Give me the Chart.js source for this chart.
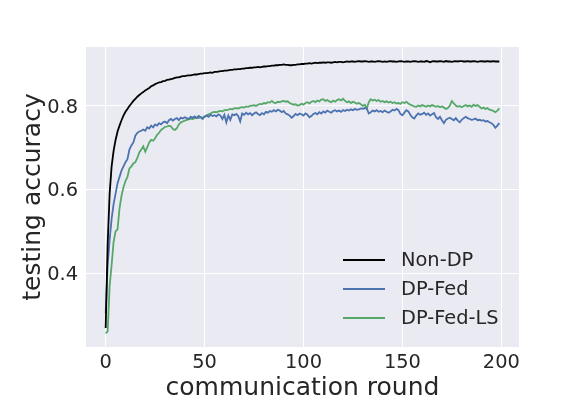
<!DOCTYPE html>
<html>
<head>
<meta charset="utf-8">
<script src="https://cdn.jsdelivr.net/npm/chart.js@4.4.1/dist/chart.umd.min.js"></script>
<style>
  html, body { margin: 0; padding: 0; background: #ffffff; }
  #wrap { width: 576px; height: 396px; }
</style>
</head>
<body>
<div id="wrap"><canvas id="accChart" width="576" height="396"></canvas></div>
<script>
// communication rounds 0..199
const rounds = Array.from({ length: 200 }, (_, i) => i);

// testing accuracy
const nonDp = [
  0.270, 0.470, 0.590, 0.655, 0.692, 0.718, 0.738, 0.752, 0.765, 0.776,
  0.785, 0.792, 0.799, 0.805, 0.811, 0.816, 0.821, 0.825, 0.829, 0.832,
  0.836, 0.839, 0.842, 0.846, 0.848, 0.851, 0.853, 0.855, 0.856, 0.858,
  0.859, 0.861, 0.862, 0.863, 0.864, 0.866, 0.867, 0.867, 0.869, 0.870,
  0.870, 0.871, 0.872, 0.872, 0.873, 0.874, 0.874, 0.875, 0.876, 0.876,
  0.877, 0.877, 0.878, 0.879, 0.878, 0.880, 0.880, 0.881, 0.882, 0.882,
  0.883, 0.883, 0.884, 0.885, 0.885, 0.886, 0.886, 0.887, 0.887, 0.888,
  0.888, 0.889, 0.889, 0.890, 0.890, 0.891, 0.891, 0.892, 0.891, 0.892,
  0.893, 0.893, 0.894, 0.894, 0.895, 0.895, 0.896, 0.896, 0.897, 0.897,
  0.898, 0.897, 0.897, 0.896, 0.896, 0.897, 0.897, 0.898, 0.898, 0.899,
  0.899, 0.900, 0.900, 0.901, 0.900, 0.901, 0.902, 0.901, 0.902, 0.902,
  0.903, 0.902, 0.903, 0.903, 0.902, 0.903, 0.904, 0.903, 0.904, 0.904,
  0.903, 0.904, 0.905, 0.904, 0.905, 0.905, 0.904, 0.905, 0.906, 0.905,
  0.905, 0.906, 0.905, 0.904, 0.905, 0.905, 0.904, 0.905, 0.906, 0.905,
  0.904, 0.905, 0.904, 0.905, 0.906, 0.905, 0.905, 0.904, 0.905, 0.906,
  0.905, 0.904, 0.905, 0.905, 0.904, 0.905, 0.906, 0.905, 0.904, 0.905,
  0.905, 0.904, 0.906, 0.905, 0.903, 0.905, 0.906, 0.905, 0.905, 0.906,
  0.905, 0.904, 0.906, 0.905, 0.905, 0.904, 0.905, 0.906, 0.905, 0.906,
  0.906, 0.905, 0.905, 0.906, 0.905, 0.905, 0.906, 0.905, 0.904, 0.905,
  0.906, 0.905, 0.905, 0.906, 0.905, 0.905, 0.906, 0.905, 0.905, 0.905
];

const dpFed = [
  0.305, 0.420, 0.480, 0.530, 0.565, 0.590, 0.615, 0.630, 0.645, 0.655,
  0.665, 0.672, 0.695, 0.705, 0.712, 0.728, 0.735, 0.738, 0.740, 0.743,
  0.740, 0.748, 0.745, 0.752, 0.748, 0.755, 0.752, 0.758, 0.755, 0.760,
  0.762, 0.758, 0.765, 0.768, 0.764, 0.768, 0.770, 0.765, 0.771, 0.769,
  0.772, 0.770, 0.768, 0.773, 0.771, 0.774, 0.770, 0.775, 0.772, 0.768,
  0.774, 0.776, 0.773, 0.778, 0.775, 0.777, 0.774, 0.779, 0.776, 0.768,
  0.778, 0.760, 0.776, 0.766, 0.779, 0.777, 0.780, 0.775, 0.762, 0.781,
  0.778, 0.783, 0.779, 0.782, 0.777, 0.781, 0.784, 0.780, 0.777, 0.782,
  0.779, 0.785, 0.783, 0.787, 0.785, 0.789, 0.786, 0.790, 0.788, 0.784,
  0.787, 0.781, 0.779, 0.776, 0.771, 0.775, 0.780, 0.777, 0.781, 0.779,
  0.776, 0.781, 0.778, 0.772, 0.775, 0.780, 0.782, 0.779, 0.784, 0.781,
  0.786, 0.783, 0.788, 0.785, 0.783, 0.787, 0.789, 0.786, 0.788, 0.785,
  0.789, 0.787, 0.790, 0.788, 0.791, 0.789, 0.792, 0.790, 0.791, 0.793,
  0.792, 0.794, 0.793, 0.781, 0.784, 0.788, 0.786, 0.789, 0.785, 0.787,
  0.784, 0.788, 0.785, 0.783, 0.786, 0.790, 0.788, 0.792, 0.789, 0.780,
  0.777, 0.783, 0.789, 0.786, 0.778, 0.772, 0.769, 0.776, 0.781, 0.778,
  0.780, 0.783, 0.778, 0.781, 0.776, 0.779, 0.782, 0.772, 0.768, 0.773,
  0.765, 0.758, 0.766, 0.769, 0.771, 0.768, 0.765, 0.770, 0.764, 0.760,
  0.766, 0.770, 0.773, 0.770, 0.768, 0.766, 0.767, 0.769, 0.765, 0.766,
  0.764, 0.765, 0.762, 0.763, 0.760, 0.758, 0.754, 0.747, 0.752, 0.758
];

const dpFedLs = [
  0.257, 0.262, 0.370, 0.420, 0.475, 0.500, 0.505, 0.555, 0.585, 0.605,
  0.620, 0.630, 0.650, 0.655, 0.662, 0.665, 0.675, 0.688, 0.695, 0.703,
  0.690, 0.700, 0.712, 0.718, 0.716, 0.722, 0.730, 0.735, 0.742, 0.745,
  0.749, 0.750, 0.752, 0.750, 0.744, 0.742, 0.746, 0.755, 0.760, 0.762,
  0.764, 0.766, 0.767, 0.769, 0.768, 0.770, 0.771, 0.770, 0.772, 0.771,
  0.773, 0.776, 0.779, 0.781, 0.784, 0.785, 0.784, 0.786, 0.787, 0.786,
  0.789, 0.789, 0.790, 0.792, 0.791, 0.793, 0.794, 0.793, 0.795, 0.796,
  0.795, 0.798, 0.797, 0.799, 0.800, 0.801, 0.799, 0.802, 0.804, 0.803,
  0.806, 0.805, 0.808, 0.807, 0.811, 0.807, 0.806, 0.809, 0.808, 0.810,
  0.811, 0.809, 0.810, 0.806, 0.804, 0.802, 0.803, 0.800, 0.801, 0.804,
  0.802, 0.806, 0.808, 0.805, 0.809, 0.811, 0.808, 0.812, 0.810, 0.814,
  0.815, 0.811, 0.813, 0.810, 0.808, 0.812, 0.809, 0.813, 0.815, 0.812,
  0.816, 0.811, 0.808, 0.810, 0.806, 0.809, 0.807, 0.804, 0.806, 0.803,
  0.799, 0.802, 0.793, 0.808, 0.815, 0.812, 0.814, 0.811, 0.813, 0.809,
  0.811, 0.808, 0.810, 0.807, 0.809, 0.806, 0.808, 0.805, 0.806, 0.804,
  0.808, 0.806, 0.809, 0.805, 0.802, 0.800, 0.798, 0.797, 0.800, 0.798,
  0.801, 0.799, 0.797, 0.800, 0.798, 0.801, 0.799, 0.797, 0.799, 0.796,
  0.798, 0.795, 0.792, 0.794, 0.800, 0.811, 0.805, 0.800, 0.797, 0.799,
  0.796, 0.799, 0.801, 0.798, 0.800, 0.797, 0.802, 0.799, 0.801, 0.797,
  0.793, 0.795, 0.792, 0.794, 0.790, 0.789, 0.787, 0.784, 0.788, 0.793
];

const seriesNames = ['Non-DP', 'DP-Fed', 'DP-Fed-LS'];
const xTicks = [0, 50, 100, 150, 200];
const yTicks = [0.4, 0.6, 0.8];

const textColor = '#262626';
const fontFamily = '"DejaVu Sans", sans-serif';

// pair every round with its value so the linear x scale can place it
function toPoints(values) {
  return rounds.map((r, i) => ({ x: r, y: values[i] }));
}

// gray plot background, seaborn darkgrid style
const plotBackground = {
  id: 'plotBackground',
  beforeDraw(chart) {
    const { ctx, chartArea } = chart;
    ctx.save();
    ctx.fillStyle = '#EAEAF2';
    ctx.fillRect(chartArea.left, chartArea.top, chartArea.width, chartArea.height);
    ctx.restore();
  }
};

// tick labels, axis titles and the legend drawn like matplotlib places them
const axisText = {
  id: 'axisText',
  afterDraw(chart) {
    const { ctx, chartArea, scales } = chart;
    ctx.save();
    ctx.fillStyle = textColor;

    // x tick labels
    ctx.font = '19.4px ' + fontFamily;
    ctx.textAlign = 'center';
    ctx.textBaseline = 'alphabetic';
    xTicks.forEach(t => {
      ctx.fillText(String(t), scales.x.getPixelForValue(t), chartArea.bottom + 21);
    });

    // y tick labels
    ctx.textAlign = 'right';
    yTicks.forEach(t => {
      ctx.fillText(t.toFixed(1), chartArea.left - 8, scales.y.getPixelForValue(t) + 7);
    });

    // axis titles
    ctx.font = '25px ' + fontFamily;
    ctx.textAlign = 'center';
    ctx.fillText('communication round', (chartArea.left + chartArea.right) / 2, 395);
    ctx.translate(40, (chartArea.top + chartArea.bottom) / 2);
    ctx.rotate(-Math.PI / 2);
    ctx.fillText('testing accuracy', 0, 0);
    ctx.restore();

    // legend in the lower right corner of the plot
    ctx.save();
    ctx.font = '19.4px ' + fontFamily;
    ctx.textAlign = 'left';
    ctx.textBaseline = 'middle';
    chart.data.datasets.forEach((ds, i) => {
      const y = 260 + i * 29;
      ctx.strokeStyle = ds.borderColor;
      ctx.lineWidth = 1.8;
      ctx.beginPath();
      ctx.moveTo(343, y);
      ctx.lineTo(385, y);
      ctx.stroke();
      ctx.fillStyle = textColor;
      ctx.fillText(ds.label, 401, y + 1);
    });
    ctx.restore();
  }
};

const ctx = document.getElementById('accChart').getContext('2d');

new Chart(ctx, {
  type: 'line',
  data: {
    datasets: [
      { label: seriesNames[0], data: toPoints(nonDp), borderColor: '#000000' },
      { label: seriesNames[1], data: toPoints(dpFed), borderColor: '#4C72B0' },
      { label: seriesNames[2], data: toPoints(dpFedLs), borderColor: '#55A868' }
    ].map(ds => Object.assign(ds, {
      borderWidth: 1.8,
      pointRadius: 0,
      tension: 0,
      fill: false
    }))
  },
  options: {
    responsive: false,
    animation: false,
    devicePixelRatio: 1,
    layout: { padding: { top: 47, right: 57, left: 0, bottom: 0 } },
    plugins: {
      legend: { display: false },
      tooltip: { enabled: false }
    },
    scales: {
      x: {
        type: 'linear',
        min: -9.95,
        max: 208.95,
        afterBuildTicks: scale => { scale.ticks = xTicks.map(v => ({ value: v })); },
        afterFit: scale => { scale.height = 49; },
        ticks: { display: false },
        grid: { color: '#ffffff', lineWidth: 1, drawTicks: false },
        border: { display: false }
      },
      y: {
        min: 0.2245,
        max: 0.9395,
        afterBuildTicks: scale => { scale.ticks = yTicks.map(v => ({ value: v })); },
        afterFit: scale => { scale.width = 86; },
        ticks: { display: false },
        grid: { color: '#ffffff', lineWidth: 1, drawTicks: false },
        border: { display: false }
      }
    }
  },
  plugins: [plotBackground, axisText]
});
</script>
</body>
</html>
